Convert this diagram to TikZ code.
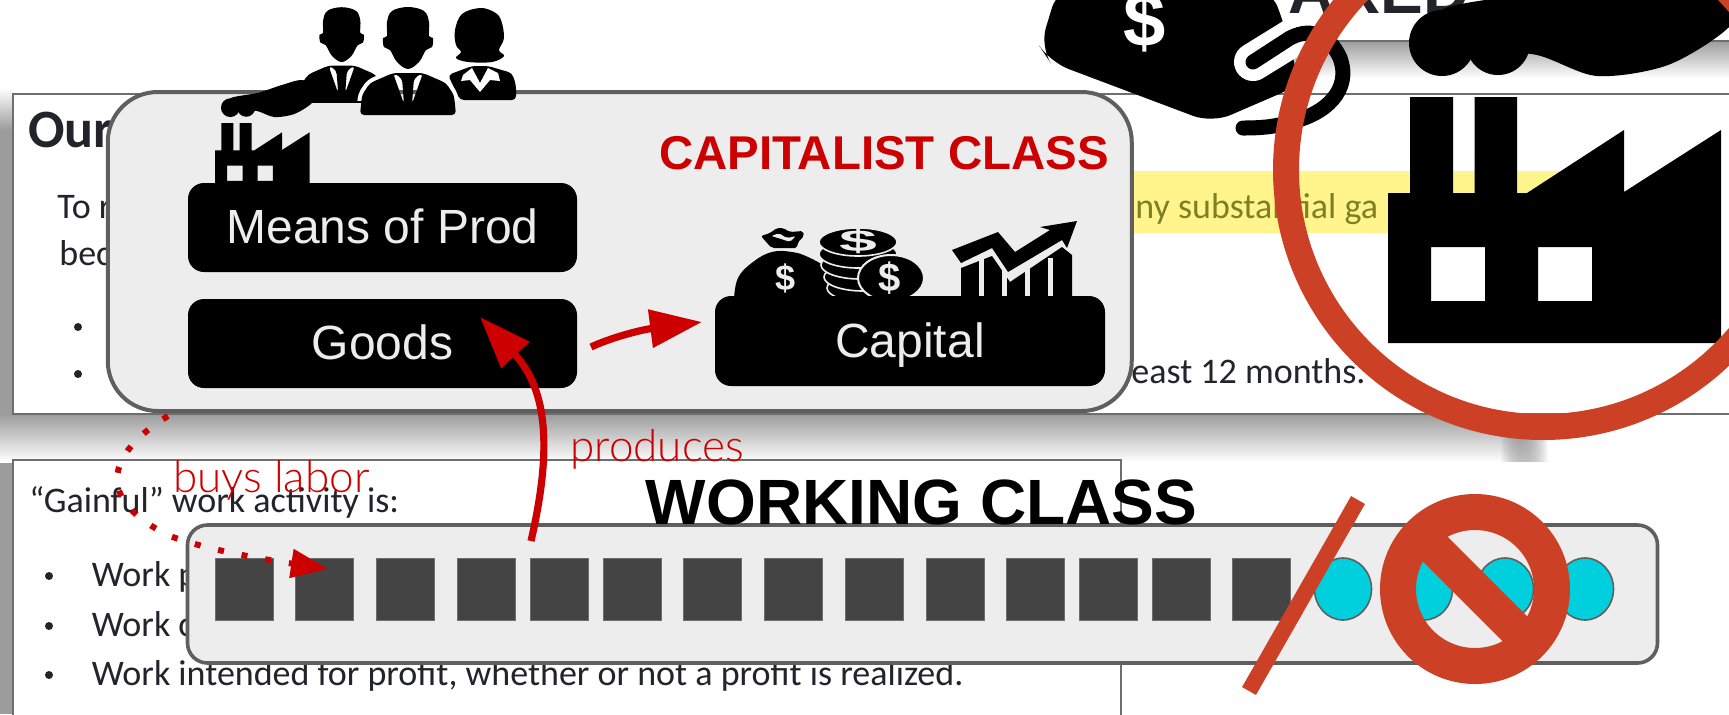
\documentclass[tikz,border=0pt]{standalone}
\usepackage{fontspec}
\setmainfont{Liberation Sans}
\newfontfamily\docfont{Carlito}
\newfontfamily\handfont{Lato Light}
\usetikzlibrary{arrows.meta,shapes.geometric,fadings}
\definecolor{classred}{HTML}{CC0000}
\definecolor{ringred}{HTML}{CC4125}
\definecolor{panelgray}{HTML}{EDEDED}
\definecolor{panelline}{HTML}{5F5F5F}
\definecolor{shadowgray}{HTML}{9C9C9C}
\definecolor{docline}{HTML}{6E6E6E}
\definecolor{doctextcol}{HTML}{23232B}
\definecolor{marker}{HTML}{FFF58C}
\definecolor{markertext}{HTML}{7F7F24}
\definecolor{workergray}{HTML}{444444}
\definecolor{freecyan}{HTML}{00D0DE}
\tikzset{
    doctext/.style={anchor=base west,inner sep=0pt,text=doctextcol,font=\docfont\fontsize{18}{18}\selectfont},
    panel/.style={draw=panelline,fill=panelgray,line width=2pt},
    blackbox/.style={fill=black,rounded corners=8pt,minimum width=194.5pt,minimum height=44.5pt,inner sep=0pt,
        text=panelgray,text height=17pt,text depth=1pt,font=\fontsize{24}{24}\selectfont},
    worker/.style={draw=docline,line width=.5pt,fill=workergray,minimum width=29pt,minimum height=31pt,inner sep=0pt},
    free/.style={draw=panelline,line width=.8pt,fill=freecyan,ellipse,minimum width=28.5pt,minimum height=31pt,inner sep=0pt},
    redarrow/.style={classred,line width=3.6pt,-{Triangle[length=26pt,width=18.5pt]}},
    hand/.style={text=classred,inner sep=0pt,font=\handfont\fontsize{22}{22}\selectfont},
    factory/.pic={
        \fill[even odd rule] (0,246) -- (0,96) -- (22,96) -- (22,0) -- (65,0) -- (65,96) -- (86.5,96) -- (86.5,0)
            -- (129,0) -- (129,96) -- (139,96) -- (236,33) -- (236,95) -- (333,33) -- (333,246) -- cycle
            (43,150) rectangle (97,204) (150,150) rectangle (204,204);
        % smoke
        \fill (54,-54) circle (33);
        \fill (110,-54) circle (32);
        \fill plot[smooth cycle] coordinates {(54,-87) (151,-106) (236,-134) (310,-151) (356,-110) (341,-70) (280,-32) (209,-21) (149,-42) (80,-50)};
    },
    person/.pic={
        \fill plot[smooth cycle,tension=.6] coordinates {(0,7) (-16,11) (-21,22) (-21,36) (-25,38) (-24,47) (-18,50) (-11,62) (0,69) (11,62) (18,50) (24,47) (25,38) (21,36) (21,22) (16,11)};
        \fill[even odd rule,rounded corners=2pt] (-15,73) -- (-38,83) -- (-46,95) -- (-48,115) -- (48,115) -- (46,95) -- (38,83) -- (15,73) -- cycle
            (-15,73) -- (-4,104) -- (-6,78) -- cycle (15,73) -- (4,104) -- (6,78) -- cycle;
    }
}
\begin{document}
\begin{tikzpicture}[x=0.5pt,y=-0.5pt]
    \clip (0,0) rectangle (1729,714);
    \fill[white] (0,0) rectangle (1729,714);

    % shadows
    \fill[top color=white,bottom color=shadowgray] (0,88) rectangle (13,130);
    \fill[shadowgray] (0,130) rectangle (13,714);
    \fill[top color=shadowgray,bottom color=white] (0,414) rectangle (1500,462);
    \fill[top color=shadowgray,bottom color=white,path fading=east] (1500,414) rectangle (1548,462);
    \fill[top color=shadowgray,bottom color=white] (1230,41) rectangle (1729,78);

    % slides behind
    \draw[docline,line width=.8pt] (1230,41) -- (1740,41);
    \node[anchor=base east,inner sep=0pt,text=doctextcol] (oldtitle) at (1470,13) {\fontsize{32}{32}\selectfont\bfseries ARED};
    \draw[docline,line width=.8pt,fill=white] (13,94) rectangle (1740,414);
    \draw[docline,line width=.8pt,fill=white] (13,460) rectangle (1121,730);
    \fill[marker] (1125,171) rectangle (1575,233);
    \node[doctext,font=\docfont\bfseries\fontsize{27}{27}\selectfont] (ourtitle) at (28,147) {Our};
    \node[doctext] (toline) at (57,218) {To r};
    \node[doctext] (becline) at (59,265) {bec};
    \node[doctext,text=markertext] (markline) at (1135,218) {ny substantial ga};
    \node[doctext] (eastline) at (1131,383) {east 12 months.};
    \fill[doctextcol] (78,327) circle (4);
    \fill[doctextcol] (78,374) circle (4);
    \node[doctext] (gainline) at (29,512) {“Gainful” work activity is:};
    \node[doctext] (workone) at (91.5,586) {Work p};
    \node[doctext] (worktwo) at (91.5,636) {Work c};
    \node[doctext] (workthree) at (91.5,685) {Work intended for profit, whether or not a profit is realized.};
    \foreach \y in {576,626,675} {
        \fill[doctextcol] (49,\y) circle (4);
    }

    % price tag
    \fill[rounded corners=10pt] (1058,-12) -- (1040,47) -- (1050,62) -- (1212,123) -- (1300,85) -- (1284,23) -- (1270,-12) -- cycle;
    \node[anchor=base,inner sep=0pt,text=white] (tagdollar) at (1145,46) {\fontsize{38}{38}\selectfont\bfseries\$};
    \draw[white,line width=19pt,line cap=round] (1253,62) -- (1300,33);
    \draw[line width=7.5pt,line cap=round] (1253,62) -- (1290,38) .. controls (1315,25) and (1332,40) .. (1340,58)
        .. controls (1352,90) and (1325,115) .. (1290,122) .. controls (1275,127) and (1260,128) .. (1243,128);

    \pic at (1388,97) {factory};
    \draw[ringred,line width=13pt] (1543,170) circle (257);

    % capitalist class
    \node[panel,rounded corners=25pt,minimum width=512pt,minimum height=159.5pt] (capbox) at (619.75,251.5) {};
    \pic[scale=.284] at (215,123) {factory};
    \pic[scale=.885] at (341.7,1) {person};
    % woman
    \fill plot[smooth cycle,tension=.6] coordinates {(480,8) (462,14) (455,30) (456,45) (461,52) (456,58) (468,62) (492,62) (504,56) (499,50) (504,38) (501,20) (494,12)};
    \fill[rounded corners=2pt] (448,75) -- (472,66) -- (488,66) -- (512,73) -- (516,85) -- (516,100) -- (460,100) -- cycle;
    \fill[white] (463,75) -- (472,68) -- (480,83) -- (488,68) -- (498,73) -- (500,81) -- (490,80) -- (480,92) -- (470,80) -- (461,81) -- cycle;
    \begin{scope}
        \clip (350,60) rectangle (470,100);
        \draw[white,line width=4pt,rounded corners=2pt] (393,73) -- (370,83) -- (362,95) -- (360,116) -- (456,116) -- (454,95) -- (446,83) -- (423,73);
    \end{scope}
    \pic at (408,0) {person};

    \node[blackbox] (meansbox) at (382.5,227.5) {Means of Prod};
    \node[blackbox] (goodsbox) at (382.5,343.5) {Goods};

    % money
    \fill plot[smooth,tension=.7] coordinates {(734,300) (738,278) (753,262) (772,252) (792,252) (808,257) (825,267) (834,280) (836,300)};
    \node[anchor=center,inner sep=0pt,text=panelgray] (bagdollar) at (786,278) {\fontsize{18}{18}\selectfont\bfseries\$};
    \fill[even odd rule,rounded corners=1pt] (761,236) -- (770,233) -- (777,228) -- (783,228) -- (790,232) -- (803,231) -- (804,236) -- (798,242) -- (797,248) -- (772,248) -- (767,243) -- cycle
        (771,236) -- (779,233) -- (787,238) -- (796,236) -- (790,242) -- (781,239) -- cycle;
    \foreach \x/\y in {866/288,863/277,860/265,858/254,858/242} {
        \draw[panelgray,fill=black,line width=.8pt] (\x,\y) ellipse (39 and 14);
    }
    \node[inner sep=0pt,text=panelgray,xscale=1.7,yscale=.75] (stackdollar) at (858,241) {\fontsize{20}{20}\selectfont\bfseries\$};
    \draw[panelgray,fill=black,line width=1pt] (891,278) ellipse (33 and 23);
    \node[inner sep=0pt,text=panelgray] (coindollar) at (890,278) {\fontsize{20}{20}\selectfont\bfseries\$};
    % chart
    \fill (961,300) -- (961,268) -- (992,256) -- (1010,282) -- (1062,247) -- (1072,255) -- (1072,300) -- cycle;
    \foreach \x in {981.5,1004.5,1027.5,1050.5} {
        \draw[panelgray,line width=2.5pt] (\x,258) -- (\x,300);
    }
    \fill (952,250) -- (998,232) -- (1015,252) -- (1050,230) -- (1040,227) -- (1077,221) -- (1067,248) -- (1062,240) -- (1008,272) -- (992,248) -- (961,263) -- cycle;
    \node[blackbox,minimum width=195pt,minimum height=45pt] (capitalbox) at (910,341) {Capital};

    \node[inner sep=0pt,text=classred,font=\bfseries\fontsize{23.7}{24}\selectfont] (captitle) at (884,153) {CAPITALIST CLASS};

    % working class
    \node[panel,line width=1.8pt,rounded corners=10pt,minimum width=735pt,minimum height=69pt] (workbox) at (922.5,594) {};
    \foreach \px [count=\i] in {244,324.5,405,486.6,559.4,632,712.7,793,874.8,955.3,1035.8,1108.5,1181,1261.8} {
        \node[worker] (w\i) at (\px,589) {};
    }
    \foreach \px [count=\i] in {1343,1424,1505,1585} {
        \node[free] (f\i) at (\px,589) {};
    }
    \node[inner sep=0pt,font=\bfseries\fontsize{32}{32}\selectfont] (worktitle) at (921.5,502) {WORKING CLASS};

    % arrows
    \coordinate (prodstart) at (531,541);
    \coordinate (goodstip) at (480,317);
    \draw[redarrow] (prodstart) .. controls (552,450) and (548,390) .. (goodstip);
    \coordinate (sellstart) at (591,347);
    \coordinate (capitaltip) at (702,322);
    \draw[redarrow] (sellstart) .. controls (610,338) and (640,330) .. (capitaltip);
    \coordinate (buystart) at (168,416);
    \coordinate (buymid) at (170,536);
    \coordinate (buytip) at (328,569);
    \draw[classred,line width=3pt,dash pattern=on 3pt off 9pt,-{Triangle[length=18.5pt,width=14pt]}]
        (buystart) .. controls (105,455) and (95,500) .. (buymid) .. controls (205,549) and (255,558) .. (buytip);
    \node[hand,anchor=base west] (buyslabel) at (173,492) {buys labor};
    \node[hand,anchor=base west] (prodlabel) at (570,461) {produces};

    % not allowed
    \coordinate (slashtop) at (1358,500);
    \coordinate (slashend) at (1249,691);
    \draw[ringred,line width=8pt] (slashtop) -- (slashend);
    \draw[ringred,line width=18pt] (1475,589) circle (77);
    \coordinate (barstart) at (1420,534);
    \coordinate (barend) at (1530,644);
    \draw[ringred,line width=17.5pt] (barstart) -- (barend);
\end{tikzpicture}
\end{document}
